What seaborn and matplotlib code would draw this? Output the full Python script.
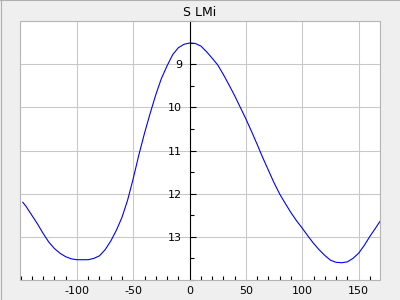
import matplotlib
matplotlib.use("Agg")
import matplotlib.pyplot as plt
import seaborn as sns
import pandas as pd
from matplotlib.ticker import MultipleLocator, FixedLocator
from matplotlib.patches import Rectangle
from matplotlib.lines import Line2D

title = "S LMi"
phase = [-148, -145, -140, -135, -130, -125, -120, -115, -110, -105, -100, -95, -90, -85,
         -80, -75, -70, -65, -60, -55, -50, -45, -40, -35, -30, -25, -20, -15, -10, -5,
         0, 5, 10, 15, 20, 25, 30, 35, 40, 45, 50, 55, 60, 65, 70, 75, 80, 85, 90, 95,
         100, 105, 110, 115, 120, 125, 130, 135, 140, 145, 150, 155, 160, 165, 169]
mag = [12.20, 12.30, 12.50, 12.70, 12.92, 13.12, 13.27, 13.38, 13.46, 13.51, 13.53, 13.53,
       13.53, 13.50, 13.44, 13.30, 13.10, 12.85, 12.55, 12.15, 11.65, 11.10, 10.60, 10.14,
       9.71, 9.33, 9.04, 8.78, 8.62, 8.54, 8.51, 8.52, 8.58, 8.71, 8.86, 9.02, 9.24, 9.48,
       9.73, 10.00, 10.27, 10.56, 10.86, 11.17, 11.46, 11.75, 12.01, 12.23, 12.44, 12.63,
       12.80, 12.98, 13.15, 13.30, 13.43, 13.54, 13.59, 13.60, 13.58, 13.50, 13.38, 13.20,
       12.99, 12.80, 12.64]
x_ticks = [-100, -50, 0, 50, 100, 150]
y_ticks = [9, 10, 11, 12, 13]

plt.rcParams['axes.unicode_minus'] = False
plt.rcParams['font.family'] = ['DejaVu Sans']

df = pd.DataFrame({"phase": phase, "mag": mag})

fig = plt.figure(figsize=(4, 3), dpi=100, facecolor="#efefef")
ax = fig.add_axes([20/400, 20/300, 360/400, 259/300])
ax.set_facecolor("white")

sns.lineplot(data=df, x="phase", y="mag", ax=ax, color="#0000ff", linewidth=0.8, sort=False)

ax.set_xlim(-150.5, 169)
ax.set_ylim(14, 8)
ax.set_xlabel("")
ax.set_ylabel("")

ax.xaxis.set_major_locator(FixedLocator(x_ticks))
ax.xaxis.set_minor_locator(MultipleLocator(10))
ax.yaxis.set_major_locator(FixedLocator(y_ticks))
ax.yaxis.set_minor_locator(MultipleLocator(0.5))

ax.grid(True, which="major", color="#c8c8c8", linewidth=0.75)
ax.set_axisbelow(True)

for s in ["top", "right", "bottom"]:
    ax.spines[s].set_visible(False)
ax.spines["left"].set_position(("data", 0))
ax.spines["left"].set_color("black")
ax.spines["left"].set_linewidth(0.8)
ax.spines["left"].set_zorder(3)

ax.tick_params(axis="x", which="major", length=0, pad=4, labelsize=8, colors="black")
ax.tick_params(axis="x", which="minor", direction="in", length=3, width=0.8, color="black")
ax.tick_params(axis="y", which="major", direction="in", length=4, width=0.8, pad=5.5, labelsize=8)
ax.tick_params(axis="y", which="minor", direction="in", length=3, width=0.8)

ax.add_patch(Rectangle((0, 0), 1, 1, transform=ax.transAxes, fill=False,
                       edgecolor="#b4b4b4", linewidth=0.8, clip_on=False, zorder=4))

ax.set_title(title, fontsize=9, pad=3.5)

fig.add_artist(Line2D([0, 1], [0.9985, 0.9985], transform=fig.transFigure, color="#b0b0b0", linewidth=0.8))
fig.add_artist(Line2D([0.0015, 0.0015], [0, 1], transform=fig.transFigure, color="#b0b0b0", linewidth=0.8))

fig.savefig("out.png", dpi=100, facecolor=fig.get_facecolor())
